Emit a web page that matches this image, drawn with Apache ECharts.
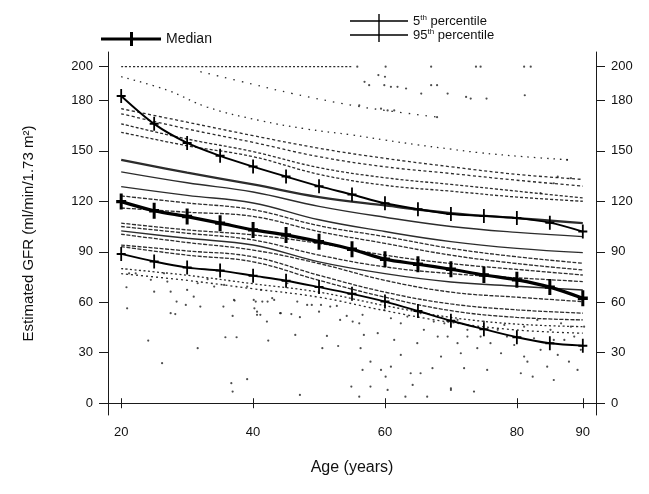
<!DOCTYPE html>
<html><head><meta charset="utf-8">
<script src="https://cdn.jsdelivr.net/npm/echarts@6/dist/echarts.min.js"></script>
<style>html,body{margin:0;padding:0;background:#fff}#c{width:649px;height:494px}</style>
</head><body><div id="c"></div>
<script>
// ---- data ----
const xTicks = [20, 40, 60, 80, 90];
const yTicks = [0, 30, 60, 90, 120, 150, 180, 200];
const markAges = [20, 25, 30, 35, 40, 45, 50, 55, 60, 65, 70, 75, 80, 85, 90];
const p95 = [182.6, 166, 154.7, 147, 140.6, 134.7, 129, 124, 118.8, 115.3, 112.4, 111.3, 110, 107.3, 102];
const median = [119.8, 114.4, 110.9, 107, 103, 100, 96, 91.5, 85.6, 82.6, 79.6, 76.2, 73.3, 69, 62.4];
const p5 = [88.7, 84.2, 80.6, 78.8, 75.8, 72.8, 69, 65, 60.4, 54.8, 49, 44, 39.2, 35.6, 34.2];

const knotAges = [20, 30, 40, 50, 60, 70, 80, 90];
// group curves
const curveL1 = [175, 167, 159, 151.5, 145.5, 140.5, 136, 133];
const curveL2 = [172, 163, 155, 146.5, 140.5, 136.5, 132.5, 129];
const curveL3 = [166, 157, 149.5, 140, 134, 130, 126, 122];
const curveL4 = [161, 153, 146.5, 136, 129.5, 126, 122.5, 120];
const curveA = [144.6, 137, 130, 122.5, 117.5, 113, 110, 107];
const curveB = [137.5, 131, 125.5, 117, 110.5, 105, 101.5, 99];
const curveM1 = [128.7, 123.5, 119, 109, 102, 96, 92, 89.5];
const curveM2 = [123.2, 119, 115, 105.5, 99, 92, 87, 83.2];
const curveM3 = [116, 113.5, 111, 102, 95, 88, 83, 79.2];
const curveM4 = [107, 103, 100, 95, 88, 83, 79.5, 76.2];
const curveM5 = [105, 101, 97, 88, 81, 77, 74.5, 72.3];
const curveM6 = [102.4, 98, 94, 84, 77, 72, 69.5, 67.3];
const curveM7 = [100.4, 95.5, 91, 83, 73, 66, 63, 60.4];
const curveM8 = [94, 90.5, 87, 76, 66, 59, 55.5, 53.5];
const curveM9 = [93, 88, 84, 73, 63, 55, 51, 49.5];
const curveD1 = [80, 76, 71, 66, 58, 51, 47, 45.5];
const curveD2 = [77, 73, 68, 63, 55, 48, 43.5, 41.6];
// sparse upper dotted curves
const topRowAges = [20, 30, 40, 50, 55];
const topRow = [200, 200, 200, 200, 200];
const sparseU3Ages = [20, 27, 33, 41, 48, 55, 60, 65, 70, 74, 81, 88];
const sparseU3 = [194, 186, 176, 168, 163, 159.4, 156.4, 153.5, 151, 149, 146.5, 144.6];
const sparseS2Ages = [32, 40, 46, 55, 60, 68];
const sparseS2 = [197, 189.5, 184, 177, 174, 170];

// individual scattered dots [age, GFR]
const dots = [
 [55.8,200],[60.1,200],[67,200],[73.8,200],[74.5,200],[81.1,200],[82.1,200],
 [59,195],[60,194],[56.9,191],[57.6,189],[59.9,189],[60.9,188],[61.9,188],[63.2,187],[65.5,184],
 [67,189],[67.9,189],[69.5,184],[72.3,182],[73,181],[75.4,181],[81.2,183],
 [56.1,177],[59.4,175],[60.4,174],[61.4,174],[67.9,170],
 [85.6,130.7],[88.2,133.7],[83.6,124.8],[86.2,134.6],[87.6,144.6],
 [20.9,56.4],[24.1,37.2],[26.2,23.8],[27.5,53.5],[28.2,53],[28.4,60.4],[29.8,58.4],[31,63.3],
 [31.6,32.7],[32,57.4],[35.5,57.4],[35.8,39.2],[36.9,51.9],[37.2,61],[37.5,39.2],[36.7,11.9],
 [36.9,6.9],[39.1,14.3],[40.2,56.4],[40.6,52.5],[41.1,52.5],[40.4,60.4],[41.4,60.4],[42.1,48.5],
 [42.3,37.2],[42.9,62.4],[44.1,53.5],[45.8,53],[46.4,40.6],[47.1,51.1],[47.1,4.9],[48.9,58.4],
 [50,54.4],[50.3,58.4],[51.2,40],[50.5,32.7],[51.7,57.4],[52.9,34],[53.2,49.5],[54.2,51.9],
 [52.7,57.8],[54.9,9.9],[20.8,68.9],[21.2,77.2],[22.2,77.2],[24.5,73.3],[25,66.3],[27,72.3],
 [27.5,66.3],[26.5,77.2],[30,67.3],[31.6,71.3],[33.1,73.7],[34.1,69.3],[35.6,70.3],[37.1,61.4],
 [39.1,69.3],[40.1,61.4],[40.6,54.4],[41.2,67.3],[42.2,60.4],[43.2,61.4],[44.2,53.5],[45.2,71.3],
 [46.7,60.4],[48.2,58.4],[56.1,3.9],
 [56.1,47.5],[56.6,52.5],[56.3,32.7],[58.9,41.6],[60.1,15.8],[60.4,7.9],[61.4,37.6],[62.4,47.5],
 [62.4,28.7],[63.1,3.9],[64.2,10.9],[64.9,35.7],[65.4,17.8],[65.9,43.6],[66.4,3.9],[67.2,20.8],
 [68,39.6],[68.5,27.7],[69,47.5],[70,7.9],[71,35.7],[71.5,29.7],[72,20.8],[72.5,43.6],[73.5,6.9],
 [74,32.7],[74.5,39.6],[75.5,19.8],[76,35.7],[77.1,43.6],[77.6,29.7],[79.6,34.6],[80.6,17.8],
 [81.1,27.7],[81.6,24.7],[82.4,15.8],[83.6,31.7],[84.6,21.7],[85.6,13.8],[86.2,28.7],[87.2,37.6],
 [87.9,24.7],[88.7,39.6],[89.2,19.8],[89.7,31.7],[90.2,45.5],[57.8,9.9],[60.9,21.7],[63.9,17.8],
 [70,8.9],[57.8,24.7],[59.4,19.8],[59.9,55.4],[63.4,51.5],[67.4,48.5],[71,49.5],[75,48.5],
 [78.1,46.5],[81.1,45.5],[83.1,49.5],[85.1,43.6],[86.7,47.5],[60.9,50.5],[65.4,53.5],[69.5,39.6],
 [72.5,39.6],[78.5,39.6],[82.6,38.6],[85.6,37.6],[88.2,45.5],[56.6,19.8],[55.1,48.5],[56.8,40.6]
];

// ---- chart ----
const FONT = 'Liberation Sans, Arial, sans-serif';
const INK = '#1a1a1a';
const pairs = (xs, ys) => xs.map((x, i) => [x, ys[i]]);
const crossSym = 'path://M4,0 L6,0 L6,14 L4,14 Z M0,6 L10,6 L10,8 L0,8 Z';
const crossSymBold = 'path://M3.5,0 L6.5,0 L6.5,14 L3.5,14 Z M0,5.5 L10,5.5 L10,8.5 L0,8.5 Z';

function curve(vals, opts) {
  return {
    type: 'line', xAxisIndex: 0, yAxisIndex: 0, smooth: 0.4, showSymbol: false, silent: true,
    data: pairs(opts.ages || knotAges, vals),
    lineStyle: { color: INK, width: opts.width || 1.3, type: opts.dash || 'solid', opacity: 0.92 },
    z: 2
  };
}

const series = [
  { type: 'scatter', data: dots, symbolSize: 2.2, itemStyle: { color: '#222' }, silent: true, z: 1 },
  curve(topRow, { ages: topRowAges, dash: [2, 2], width: 1.1 }),
  curve(sparseU3, { ages: sparseU3Ages, dash: [1.5, 5], width: 1.3 }),
  curve(sparseS2, { ages: sparseS2Ages, dash: [1.5, 7], width: 1.3 }),
  curve(curveL1, { dash: [3, 2.5] }),
  curve(curveL2, { dash: [3, 2.5] }),
  curve(curveL3, { dash: [3, 2] }),
  curve(curveL4, { dash: [3, 2] }),
  curve(curveA, { width: 2.3 }),
  curve(curveB, { width: 1.4 }),
  curve(curveM1, { width: 1.4 }),
  curve(curveM2, { dash: [4, 1.5] }),
  curve(curveM3, { dash: [4, 1.5] }),
  curve(curveM4, { dash: [4, 1.5] }),
  curve(curveM5, { dash: [4, 1.5] }),
  curve(curveM6, { width: 1.4 }),
  curve(curveM7, { dash: [4, 1.5] }),
  curve(curveM8, { dash: [4, 1.5] }),
  curve(curveM9, { dash: [4, 1.5] }),
  curve(curveD1, { dash: [2, 2.5] }),
  curve(curveD2, { dash: [2, 3] }),
  { name: 'p5', type: 'line', smooth: 0.3, data: pairs(markAges, p5), symbol: crossSym, symbolSize: [9, 14],
    lineStyle: { color: '#000', width: 1.9 }, itemStyle: { color: '#000' }, z: 5, silent: true },
  { name: 'p95', type: 'line', smooth: 0.3, data: pairs(markAges, p95), symbol: crossSym, symbolSize: [9, 14],
    lineStyle: { color: '#000', width: 1.9 }, itemStyle: { color: '#000' }, z: 5, silent: true },
  { name: 'Median', type: 'line', smooth: 0.3, data: pairs(markAges, median), symbol: crossSymBold, symbolSize: [10, 16],
    lineStyle: { color: '#000', width: 3.2 }, itemStyle: { color: '#000' }, z: 6, silent: true }
];

const axisLine = { show: true, lineStyle: { color: INK, width: 1 } };
const labelStyle = { color: '#111', fontSize: 13, fontFamily: FONT };

const option = {
  animation: false,
  backgroundColor: '#fff',
  grid: { left: 108, right: 53, top: 52, bottom: 79, containLabel: false },
  legend: [
    { data: ['Median'], left: 101, top: 32, padding: 0, selectedMode: false, itemWidth: 60, itemHeight: 14, itemGap: 0,
      icon: 'path://M0,5.5 L60,5.5 L60,8.5 L0,8.5 Z M29,0 L32,0 L32,14 L29,14 Z',
      textStyle: { fontSize: 14, color: '#111', fontFamily: FONT } },
    { data: ['p5', 'p95'], left: 350, top: 14, padding: 0, orient: 'vertical', selectedMode: false, itemWidth: 58, itemHeight: 14, itemGap: 0,
      icon: 'path://M0,6.3 L58,6.3 L58,7.7 L0,7.7 Z M28.3,0 L29.7,0 L29.7,14 L28.3,14 Z',
      formatter: n => n === 'p5' ? '{a|5}{s|th}{a| percentile}' : '{a|95}{s|th}{a| percentile}',
      textStyle: { color: '#111', fontFamily: FONT, rich: {
        a: { fontSize: 13, color: '#111', fontFamily: FONT, lineHeight: 14 },
        s: { fontSize: 8, color: '#111', fontFamily: FONT, verticalAlign: 'top', lineHeight: 14, padding: [0, 0, 6, 0] } } } }
  ],
  xAxis: [
    { type: 'value', min: 18, max: 92, position: 'bottom', axisLine,
      splitLine: { show: false },
      axisTick: { show: true, length: 5, customValues: xTicks, lineStyle: { color: INK } },
      axisLabel: { customValues: xTicks, margin: 11, ...labelStyle },
      name: 'Age (years)', nameLocation: 'middle', nameGap: 45,
      nameTextStyle: { fontSize: 16, color: '#111', fontFamily: FONT } },
    { type: 'value', min: 18, max: 92, position: 'top', axisLine,
      splitLine: { show: false },
      axisTick: { show: true, length: 5, customValues: xTicks, lineStyle: { color: INK } },
      axisLabel: { show: false } }
  ],
  yAxis: [
    { type: 'value', min: -7, max: 208.7, position: 'left', axisLine,
      splitLine: { show: false },
      axisTick: { show: true, length: 9, customValues: yTicks, lineStyle: { color: INK } },
      axisLabel: { customValues: yTicks, margin: 15, ...labelStyle },
      name: 'Estimated GFR (ml/min/1.73 m²)', nameLocation: 'middle', nameGap: 72,
      nameTextStyle: { fontSize: 15, color: '#111', fontFamily: FONT } },
    { type: 'value', min: -7, max: 208.7, position: 'right', axisLine,
      splitLine: { show: false },
      axisTick: { show: true, length: 9, customValues: yTicks, lineStyle: { color: INK } },
      axisLabel: { customValues: yTicks, margin: 15, ...labelStyle } }
  ],
  series
};

const chart = echarts.init(document.getElementById('c'), null, { renderer: 'canvas' });
chart.setOption(option);
</script>
</body></html>
